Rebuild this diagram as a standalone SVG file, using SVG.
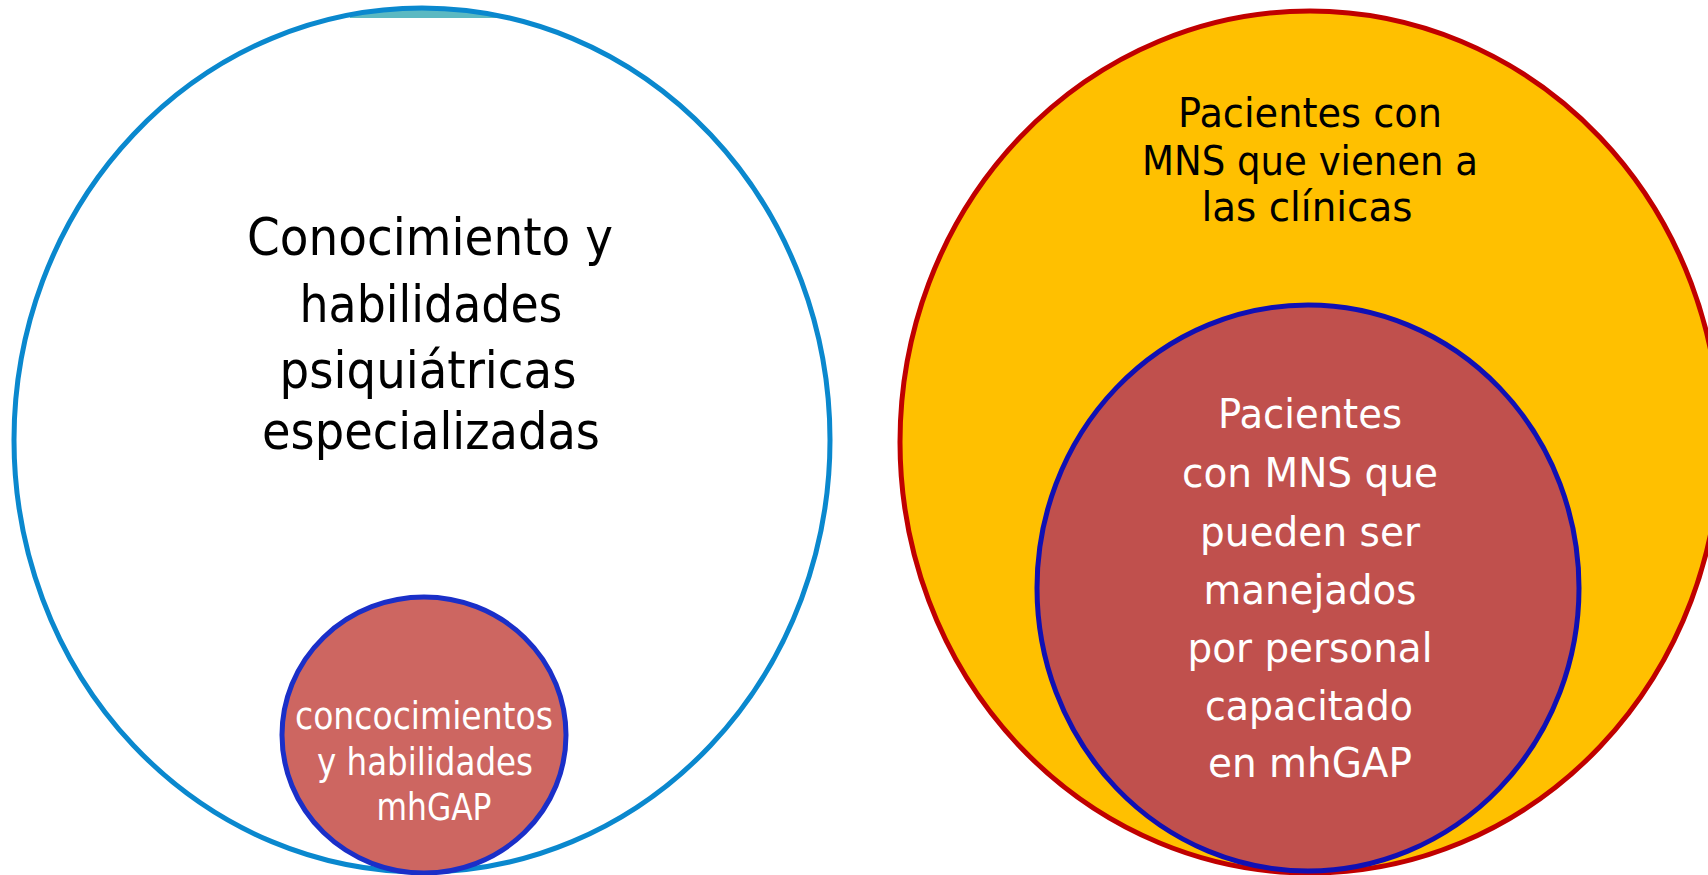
<svg xmlns="http://www.w3.org/2000/svg" width="1708" height="875" viewBox="0 0 1708 875">
<style>
.t{font-family:"DejaVu Sans","Liberation Sans",sans-serif;text-anchor:middle}
.dk{fill:#000}
.wh{fill:#fff}
</style>
<rect width="1708" height="875" fill="#fff"/>
<g id="left-outer">
<path d="M350,15 A408,432 0 0 1 497,15.3 L497,18 L350,18 Z" fill="#5BB9C2"/>
<ellipse cx="422" cy="440" rx="408" ry="432" fill="none" stroke="#0A88CE" stroke-width="5"/>
<text class="t dk" font-size="52" x="430" y="255" textLength="366" lengthAdjust="spacingAndGlyphs">Conocimiento y</text>
<text class="t dk" font-size="52" x="431" y="322" textLength="263" lengthAdjust="spacingAndGlyphs">habilidades</text>
<text class="t dk" font-size="52" x="428" y="388" textLength="297" lengthAdjust="spacingAndGlyphs">psiquiátricas</text>
<text class="t dk" font-size="52" x="431" y="449" textLength="338" lengthAdjust="spacingAndGlyphs">especializadas</text>
</g>
<g id="left-inner">
<ellipse cx="424" cy="735" rx="142" ry="138" fill="#CD6661" stroke="#1A2FC8" stroke-width="5"/>
<text class="t wh" font-size="37" x="424" y="729" textLength="258" lengthAdjust="spacingAndGlyphs">concocimientos</text>
<text class="t wh" font-size="37" x="425" y="775" textLength="216" lengthAdjust="spacingAndGlyphs">y habilidades</text>
<text class="t wh" font-size="37" x="434" y="820" textLength="115" lengthAdjust="spacingAndGlyphs">mhGAP</text>
</g>
<g id="right-outer">
<ellipse cx="1310" cy="442" rx="410" ry="431" fill="#FFC000" stroke="#C00000" stroke-width="5"/>
<text class="t dk" font-size="41" x="1310" y="127" textLength="264" lengthAdjust="spacingAndGlyphs">Pacientes con</text>
<text class="t dk" font-size="41" x="1310" y="175" textLength="336" lengthAdjust="spacingAndGlyphs">MNS que vienen a</text>
<text class="t dk" font-size="41" x="1307" y="221" textLength="211" lengthAdjust="spacingAndGlyphs">las clínicas</text>
</g>
<g id="right-inner">
<ellipse cx="1308" cy="588" rx="271" ry="283" fill="#C0504D" stroke="#1010B4" stroke-width="5"/>
<text class="t wh" font-size="41" x="1310" y="428" textLength="184" lengthAdjust="spacingAndGlyphs">Pacientes</text>
<text class="t wh" font-size="41" x="1310" y="487" textLength="256" lengthAdjust="spacingAndGlyphs">con MNS que</text>
<text class="t wh" font-size="41" x="1310" y="546" textLength="220" lengthAdjust="spacingAndGlyphs">pueden ser</text>
<text class="t wh" font-size="41" x="1310" y="604" textLength="213" lengthAdjust="spacingAndGlyphs">manejados</text>
<text class="t wh" font-size="41" x="1310" y="662" textLength="245" lengthAdjust="spacingAndGlyphs">por personal</text>
<text class="t wh" font-size="41" x="1309" y="720" textLength="208" lengthAdjust="spacingAndGlyphs">capacitado</text>
<text class="t wh" font-size="41" x="1310" y="777" textLength="204" lengthAdjust="spacingAndGlyphs">en mhGAP</text>
</g>
<g id="connectors"></g>
</svg>
